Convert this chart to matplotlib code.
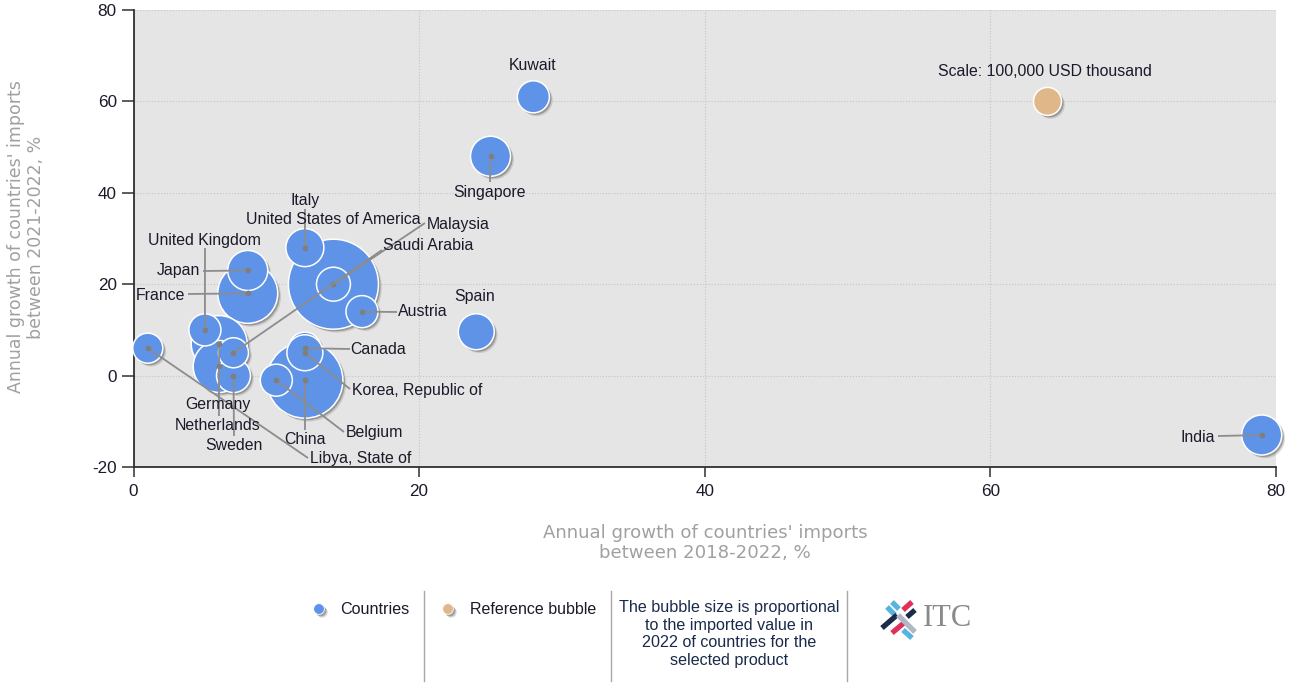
import matplotlib
matplotlib.use("Agg")
import matplotlib.pyplot as plt
import matplotlib.patheffects as pe

# ---- data ----
countries = ["United States of America", "China", "France", "Germany", "Netherlands",
             "Japan", "Singapore", "India", "Italy", "Canada", "Korea, Republic of",
             "Spain", "Malaysia", "Sweden", "United Kingdom", "Austria", "Belgium",
             "Kuwait", "Saudi Arabia", "Libya, State of"]
growth_2018_2022 = [14, 12, 8, 6, 6, 8, 25, 79, 12, 12, 12, 24, 14, 7, 5, 16, 10, 28, 7, 1]
growth_2021_2022 = [20, -1, 18, 7, 2, 23, 48, -13, 28, 6, 5, 9.6, 20, 0, 10, 14, -1, 61, 5, 6]
imports_2022 = [1033000, 737000, 459000, 400000, 345000, 204000, 204000, 204000, 184000,
                131000, 165000, 165000, 147000, 147000, 131000, 131000, 131000, 131000,
                115000, 115000]
reference_x = [64]
reference_y = [60]
reference_value = [100000]
reference_label = "Scale: 100,000 USD thousand"
x_ticks = [0, 20, 40, 60, 80]
y_ticks = [-20, 0, 20, 40, 60, 80]
x_title = "Annual growth of countries' imports\nbetween 2018-2022, %"
y_title = "Annual growth of countries' imports\nbetween 2021-2022, %"
legend_labels = ["Countries", "Reference bubble"]
legend_note = ("The bubble size is proportional\nto the imported value in\n"
               "2022 of countries for the\nselected product")

# ---- layout: label centre and leader end, in image pixels ----
W, H = 1291, 683
label_pos = {
    "United States of America": (333, 219), "China": (305, 439), "France": (160, 295),
    "Germany": (218, 404), "Netherlands": (218, 425), "Japan": (178, 271),
    "Singapore": (490, 192), "India": (1198, 437), "Italy": (305, 200),
    "Canada": (378, 349), "Korea, Republic of": (417, 390), "Spain": (475, 296),
    "Malaysia": (458, 225), "Sweden": (234, 445), "United Kingdom": (204, 240),
    "Austria": (423, 312), "Belgium": (374, 432), "Kuwait": (533, 65),
    "Saudi Arabia": (428, 246), "Libya, State of": (361, 458),
}
leader_end = {
    "China": (305, 430), "France": (188, 294), "Germany": (219, 396),
    "Netherlands": (219, 416), "Japan": (203, 271), "Singapore": (490, 182),
    "India": (1218, 436), "Italy": (305, 209), "Canada": (350, 349),
    "Korea, Republic of": (350, 389), "Malaysia": (425, 223), "Sweden": (234, 436),
    "United Kingdom": (205, 248), "Austria": (397, 312), "Belgium": (344, 432),
    "Saudi Arabia": (382, 250), "Libya, State of": (308, 458),
}
BLUE, TAN = "#5f93e8", "#dfb788"
TXT, LEAD = "#1a1a2a", "#8c8c8c"
plt.rcParams["font.family"] = "Liberation Sans"
plt.rcParams["axes.unicode_minus"] = False

fig = plt.figure(figsize=(W / 100, H / 100), dpi=100, facecolor="white")
ax = fig.add_axes([133.5 / W, 1 - 467 / H, (1276 - 133.5) / W, 457 / H])
ax.set_facecolor("#e5e5e5")
ax.set_xlim(0, 80)
ax.set_ylim(-20, 80)
ax.set_xticks(x_ticks)
ax.set_yticks(y_ticks)
ax.grid(True, ls=":", lw=0.8, color="#c4c4c4")
ax.set_axisbelow(True)
for s in ("top", "right"):
    ax.spines[s].set_visible(False)
for s in ("left", "bottom"):
    ax.spines[s].set_color("#303030")
    ax.spines[s].set_linewidth(1.3)
ax.tick_params(axis="both", colors="#303030", labelcolor=TXT, labelsize=12.3, width=1.1)
ax.tick_params(axis="y", length=9, pad=3)
ax.tick_params(axis="x", length=7, pad=5)

shadow = [pe.SimplePatchShadow(offset=(2.4, -2.4), shadow_rgbFace="#999999", alpha=0.35),
          pe.SimplePatchShadow(offset=(1.5, -1.5), shadow_rgbFace="#666666", alpha=0.5),
          pe.Normal()]
k = (2 * 14 * 0.72) ** 2 / reference_value[0]

ax.scatter(growth_2018_2022, growth_2021_2022, s=[v * k for v in imports_2022], color=BLUE,
           edgecolor="white", linewidth=1.1, zorder=3, path_effects=shadow, clip_on=False)
ax.scatter(reference_x, reference_y, s=[v * k for v in reference_value], color=TAN,
           edgecolor="white", linewidth=1.1, zorder=3, path_effects=shadow)

# overlay in image pixel coordinates: leaders, labels, legend strip, logo
lg = fig.add_axes([0, 0, 1, 1], facecolor="none")
lg.set_xlim(0, W)
lg.set_ylim(H, 0)
lg.axis("off")

for name, x, y in zip(countries, growth_2018_2022, growth_2021_2022):
    if name in leader_end:
        px, py = ax.transData.transform((x, y))
        py = H - py
        ex, ey = leader_end[name]
        lg.plot([px, ex], [py, ey], color=LEAD, lw=1.3, solid_capstyle="butt", zorder=4)
        lg.plot([px], [py], "o", ms=4.2, color="#7f7f7f", mew=0, zorder=4)
    lx, ly = label_pos[name]
    lg.text(lx, ly, name, ha="center", va="center", fontsize=11.4, color=TXT, zorder=5)
lg.text(1045, 71, reference_label, ha="center", va="center", fontsize=11.4, color=TXT, zorder=5)

fig.text(705 / W, 1 - 543 / H, x_title, ha="center", va="center", fontsize=13.1,
         family="DejaVu Sans", color="#a0a0a0", linespacing=1.12)
fig.text(26 / W, 1 - 237 / H, y_title, ha="center", va="center", rotation=90, fontsize=12.5,
         family="DejaVu Sans", color="#a0a0a0", linespacing=1.12)

lg.scatter([319], [609], s=60, color=BLUE, edgecolor="white", linewidth=0.6, path_effects=shadow)
lg.scatter([448], [609], s=60, color=TAN, edgecolor="white", linewidth=0.6, path_effects=shadow)
lg.text(375, 610, legend_labels[0], ha="center", va="center", fontsize=11.6, color=TXT)
lg.text(533, 610, legend_labels[1], ha="center", va="center", fontsize=11.5, color=TXT)
lg.text(729, 634, legend_note, ha="center", va="center", fontsize=11.6, color="#1a2a4a", linespacing=1.22)
for sx in (424, 611, 847):
    lg.plot([sx, sx], [591, 681], color="#a8a8a8", lw=1)

# ITC logo
for (x0, y0, x1, y1, c) in [
    (887, 607, 895, 615, "#55b4e0"), (892, 602, 899, 609, "#55b4e0"),
    (903, 610, 912, 602, "#e0305a"), (907, 617, 915, 610, "#1c2b4a"),
    (882, 628, 897, 615, "#1c2b4a"), (892, 633, 905, 622, "#e0305a"),
    (898, 615, 915, 632, "#b0b8c4"), (903, 630, 912, 638, "#55b4e0"),
]:
    lg.plot([x0, x1], [y0, y1], color=c, lw=3.8, solid_capstyle="butt")
lg.text(947.5, 618.5, "ITC", ha="center", va="center", fontsize=22, color="#8a8a8a",
        family="Liberation Serif")

fig.savefig("out.png", dpi=100)
